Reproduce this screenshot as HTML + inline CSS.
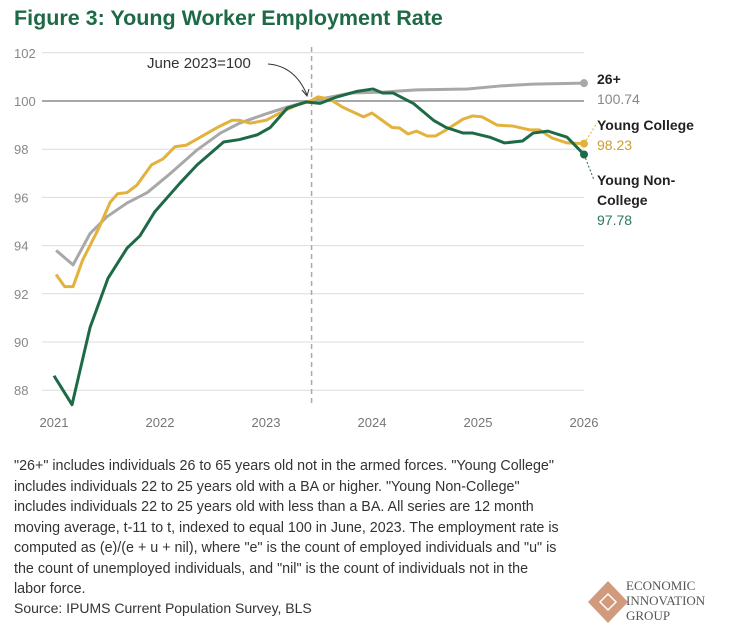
<!DOCTYPE html>
<html><head><meta charset="utf-8"><style>
body{margin:0;background:#fff;width:734px;height:641px;overflow:hidden;font-family:"Liberation Sans",sans-serif;}
#title{position:absolute;left:14px;top:6px;font-size:21.5px;font-weight:bold;color:#1e6a47;}
#note{position:absolute;left:14px;top:456px;font-size:14.3px;line-height:20.5px;color:#333;white-space:nowrap;}
#source{position:absolute;left:14px;top:600px;font-size:14px;color:#333;}
#logo{position:absolute;left:586px;top:577px;}
</style></head><body>
<div id="title">Figure 3: Young Worker Employment Rate</div>
<svg id="chart" width="734" height="450" style="position:absolute;left:0;top:0"></svg>
<div id="note">"26+" includes individuals 26 to 65 years old not in the armed forces. "Young College"<br>includes individuals 22 to 25 years old with a BA or higher. "Young Non-College"<br>includes individuals 22 to 25 years old with less than a BA. All series are 12 month<br>moving average, t-11 to t, indexed to equal 100 in June, 2023. The employment rate is<br>computed as (e)/(e + u + nil), where "e" is the count of employed individuals and "u" is<br>the count of unemployed individuals, and "nil" is the count of individuals not in the<br>labor force.</div>
<div id="source">Source: IPUMS Current Population Survey, BLS</div>
<svg id="logo" width="140" height="50">
<polygon points="22,4 42,25 22,46 2,25" fill="#d29a7c"/>
<path d="M14,25 L22,17 L30,25 L22,33 Z" fill="none" stroke="#fff" stroke-width="1.5"/>
<text x="40" y="13" font-family="Liberation Serif,serif" font-size="13" fill="#555">ECONOMIC</text>
<text x="40" y="28" font-family="Liberation Serif,serif" font-size="13" fill="#555">INNOVATION</text>
<text x="40" y="43" font-family="Liberation Serif,serif" font-size="13" fill="#555">GROUP</text>
</svg>
<script>
const yTicks=[88,90,92,94,96,98,100,102];
const xTicks=[2021,2022,2023,2024,2025,2026];
const tGreen=[2021.0,2021.17,2021.34,2021.51,2021.69,2021.81,2021.95,2022.19,2022.35,2022.6,2022.75,2022.92,2023.04,2023.2,2023.38,2023.51,2023.67,2023.86,2024.01,2024.1,2024.2,2024.39,2024.58,2024.7,2024.86,2024.95,2025.11,2025.25,2025.42,2025.52,2025.66,2025.84,2026.0];
const vGreen=[88.6,87.4,90.6,92.65,93.9,94.4,95.4,96.6,97.35,98.3,98.4,98.6,98.9,99.7,99.96,99.9,100.17,100.4,100.5,100.33,100.33,99.9,99.2,98.9,98.67,98.67,98.5,98.26,98.34,98.67,98.75,98.5,97.78];
const tYellow=[2021.02,2021.1,2021.18,2021.27,2021.42,2021.53,2021.6,2021.69,2021.78,2021.92,2022.03,2022.14,2022.25,2022.38,2022.54,2022.68,2022.75,2022.85,2023.0,2023.13,2023.29,2023.42,2023.49,2023.6,2023.72,2023.92,2024.0,2024.19,2024.26,2024.34,2024.42,2024.52,2024.6,2024.7,2024.86,2024.95,2025.04,2025.18,2025.33,2025.49,2025.58,2025.7,2025.84,2026.0];
const vYellow=[92.8,92.3,92.3,93.4,94.7,95.8,96.15,96.2,96.5,97.35,97.6,98.1,98.17,98.5,98.9,99.2,99.2,99.08,99.2,99.5,99.83,100,100.17,100.08,99.75,99.34,99.5,98.9,98.88,98.63,98.75,98.55,98.55,98.8,99.25,99.38,99.34,99.0,98.96,98.8,98.8,98.46,98.26,98.23];
const tGray=[2021.02,2021.18,2021.34,2021.5,2021.69,2021.88,2022.1,2022.35,2022.57,2022.75,2022.97,2023.2,2023.38,2023.51,2023.8,2024.1,2024.42,2024.9,2025.2,2025.52,2026.0];
const vGray=[93.8,93.2,94.5,95.2,95.77,96.2,97.0,97.97,98.67,99.08,99.42,99.75,99.96,100.08,100.33,100.37,100.46,100.5,100.62,100.7,100.74];
const NS='http://www.w3.org/2000/svg';
const svg=document.getElementById('chart');
const X=t=>54+(t-2021)*106;
const Y=v=>101-(v-100)*24.1;
function mk(tag,attrs,parent){const e=document.createElementNS(NS,tag);for(const k in attrs)e.setAttribute(k,attrs[k]);(parent||svg).appendChild(e);return e;}
yTicks.forEach(v=>{
  const l=mk('line',{x1:42,x2:584,y1:Y(v),y2:Y(v),stroke:v===100?'#a8a8a8':'#dcdcdc','stroke-width':v===100?2:1});
  
  
  const t=mk('text',{x:14,y:Y(v)+5,'font-size':13,fill:'#888'});t.textContent=v;
  
  
});
xTicks.forEach(v=>{
  const t=mk('text',{x:X(v),y:427,'font-size':13,fill:'#777','text-anchor':'middle'});t.textContent=v;
  
  
});
const dl=mk('line',{x1:X(2023.43),x2:X(2023.43),y1:47,y2:405,stroke:'#aaa','stroke-width':1.5,'stroke-dasharray':'5,4'});


const at=mk('text',{x:147,y:68,'font-size':15,fill:'#333'});at.textContent='June 2023=100';


mk('path',{d:'M268,64 Q295,66 307,95',fill:'none',stroke:'#333','stroke-width':1});
mk('path',{d:'M302,90 L307,96 L309,89',fill:'none',stroke:'#333','stroke-width':1});
function series(ts,vs,color,name){
  const p=mk('polyline',{points:ts.map((t,i)=>X(t)+','+Y(vs[i])).join(' '),fill:'none',stroke:color,'stroke-width':3,'stroke-linejoin':'round'});
  
  
  const n=ts.length-1;
  const c=mk('circle',{cx:X(ts[n]),cy:Y(vs[n]),r:4,fill:color});
  
  
  return [X(ts[n]),Y(vs[n])];
}
const eg=series(tGray,vGray,'#a8a8a8','series-26plus');
const ey=series(tYellow,vYellow,'#e3b23c','series-young-college');
const en=series(tGreen,vGreen,'#1e6a47','series-young-non-college');
mk('line',{x1:ey[0],y1:ey[1],x2:597,y2:123,stroke:'#e3b23c','stroke-dasharray':'2,2'});
mk('line',{x1:en[0],y1:en[1],x2:594,y2:180,stroke:'#1e6a47','stroke-dasharray':'2,2'});
function lbl(x,y,txt,color,bold,name){const t=mk('text',{x:x,y:y,'font-size':14,fill:color,'font-weight':bold?'bold':'normal'});t.textContent=txt;
  
  }
lbl(597,84,'26+','#222',true,'label-26plus');
lbl(597,104,vGray[vGray.length-1].toFixed(2),'#888',false,'value-26plus');
lbl(597,130,'Young College','#222',true,'label-young-college');
lbl(597,150,vYellow[vYellow.length-1].toFixed(2),'#c9a030',false,'value-young-college');
lbl(597,185,'Young Non-','#222',true,'label-young-non-college');
lbl(597,205,'College','#222',true,'label-young-non-college-2');
lbl(597,225,vGreen[vGreen.length-1].toFixed(2),'#2c7a57',false,'value-young-non-college');
</script>
</body></html>
